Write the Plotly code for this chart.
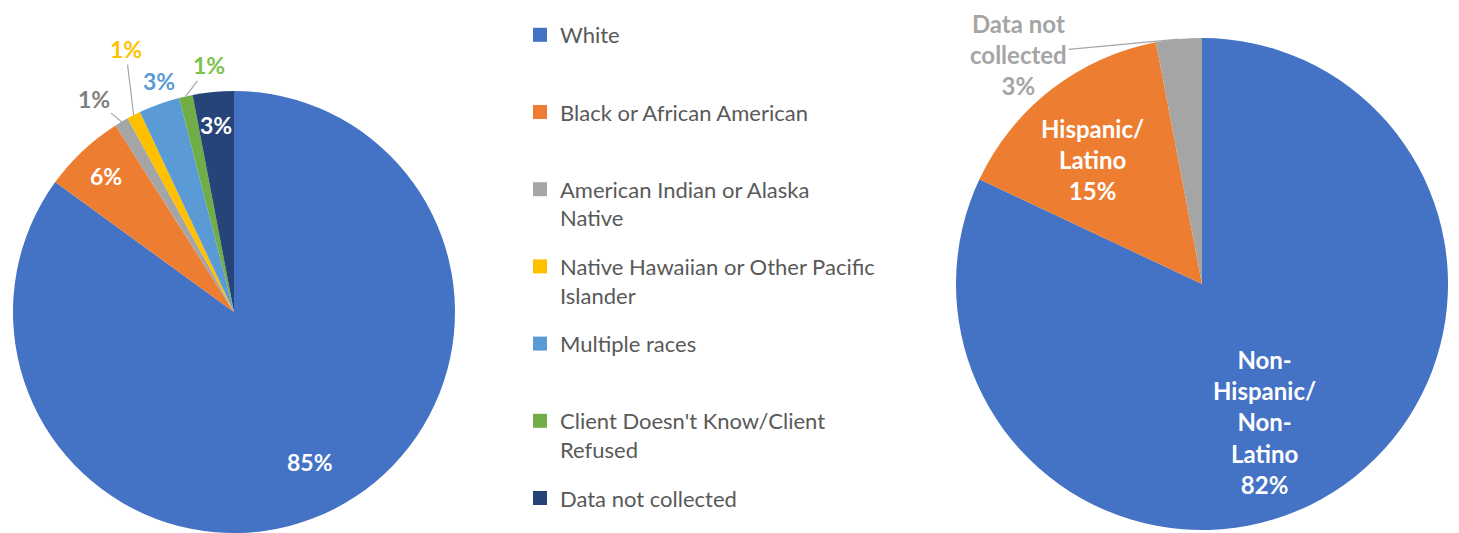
import numpy as np
import plotly.graph_objects as go

# ---------------- data ----------------
race_labels = ["White", "Black or African American", "American Indian or Alaska Native",
               "Native Hawaiian or Other Pacific Islander", "Multiple races",
               "Client Doesn't Know/Client Refused", "Data not collected"]
race_legend = ["White", "Black or African American", "American Indian or Alaska<br>Native",
               "Native Hawaiian or Other Pacific<br>Islander", "Multiple races",
               "Client Doesn't Know/Client<br>Refused", "Data not collected"]
race_values = [85, 6, 1, 1, 3, 1, 3]

eth_labels = ["Non-Hispanic/Non-Latino", "Hispanic/Latino", "Data not collected"]
eth_text = ["Non-<br>Hispanic/<br>Non-<br>Latino", "Hispanic/<br>Latino", "Data not<br>collected"]
eth_values = [82, 15, 3]

# ---------------- styles ----------------
race_colors = ["#4472C4", "#ED7D31", "#A5A5A5", "#FFC000", "#5B9BD5", "#70AD47", "#264478"]
eth_colors = ["#4472C4", "#ED7D31", "#A5A5A5"]

# label placement: ("in", radius fraction, dx, dy) / ("near", None, dx, dy) / ("out", None, ax, ay)
race_label_pos = [("in", 0.76, 0, 0), ("in", 0.845, 0, 0), ("out", None, -28, -23),
                  ("out", None, -8, -66), ("near", None, 0, -23), ("out", None, 23, -31),
                  ("in", 0.85, 0, 0)]
race_label_color = ["white", "white", "#7F7F7F", "#FFC000", "#5B9BD5", "#7DC24B", "white"]
eth_label_pos = [("in", 0.62, -19, 9), ("in", 0.67, -8, 6), ("out", None, -160, 15)]
eth_label_color = ["white", "white", "#A5A5A5"]

W, H = 1459, 533
FONT = "Lato"
L_SIZE, R_SIZE, LEG_SIZE = 23, 24, 22

# pie geometry (pixels)
L_CX, L_CY, L_R = 234, 312, 221
R_CX, R_CY, R_R = 1202, 284, 246


def dom(cx, cy, r):
    return dict(x=[(cx - r) / W, (cx + r) / W], y=[1 - (cy + r) / H, 1 - (cy - r) / H])


def pad2(s):
    return s if "<br>" in s else s + "<br> "


fig = go.Figure()

fig.add_trace(go.Pie(
    labels=race_labels, values=race_values,
    sort=False, direction="clockwise", rotation=0,
    marker=dict(colors=race_colors, line=dict(width=0)),
    textinfo="none", domain=dom(L_CX, L_CY, L_R),
    hoverinfo="label+percent", showlegend=False,
))

fig.add_trace(go.Pie(
    labels=eth_labels, values=eth_values,
    sort=False, direction="clockwise", rotation=0,
    marker=dict(colors=eth_colors, line=dict(width=0)),
    textinfo="none", domain=dom(R_CX, R_CY, R_R),
    hoverinfo="label+percent", showlegend=False,
))

# legend entries (one group per race category, so the gaps match the original)
last = len(race_labels) - 1
for i, lab in enumerate(race_legend):
    fig.add_trace(go.Scatter(
        x=[None], y=[None], mode="markers",
        marker=dict(symbol="square", size=14, color=race_colors[i]),
        name=pad2(lab) if i < last else lab,
        legendgroup=f"race{i}", showlegend=True, hoverinfo="skip",
    ))


def polar_point(values, idx, cx, cy, r):
    cum = np.cumsum(values)
    mid = (cum[idx] - values[idx] / 2.0) / cum[-1]
    th = 2 * np.pi * mid
    return cx + r * np.sin(th), cy - r * np.cos(th)


def make_labels(values, texts, pos, colors, cx, cy, r, size):
    out = []
    for i, v in enumerate(values):
        kind, frac, dx, dy = pos[i]
        txt = f"{texts[i]}<br>{v}%" if texts else f"{v}%"
        font = dict(family=FONT, size=size, color=colors[i], weight="bold")
        if kind in ("in", "near"):
            px, py = polar_point(values, i, cx, cy, r * (frac if frac else 1.0))
            out.append(dict(x=(px + dx) / W, y=1 - (py + dy) / H, xref="paper", yref="paper",
                            text=txt, font=font, showarrow=False,
                            xanchor="center", yanchor="middle"))
        else:
            px, py = polar_point(values, i, cx, cy, r)
            out.append(dict(x=px / W, y=1 - py / H, xref="paper", yref="paper",
                            text=txt, font=font, showarrow=True, ax=dx, ay=dy,
                            arrowhead=0, arrowwidth=1.2, arrowcolor="#A6A6A6", standoff=0))
    return out


annotations = (make_labels(race_values, None, race_label_pos, race_label_color,
                           L_CX, L_CY, L_R, L_SIZE)
               + make_labels(eth_values, eth_text, eth_label_pos, eth_label_color,
                             R_CX, R_CY, R_R, R_SIZE))

fig.update_layout(
    width=W, height=H,
    margin=dict(l=0, r=0, t=0, b=0),
    paper_bgcolor="white", plot_bgcolor="rgba(0,0,0,0)",
    xaxis=dict(visible=False), yaxis=dict(visible=False),
    annotations=annotations,
    legend=dict(
        x=520 / W, xanchor="left", y=1 - 14 / H, yanchor="top",
        font=dict(family=FONT, size=LEG_SIZE, color="#595959"),
        valign="top", bgcolor="rgba(0,0,0,0)", tracegroupgap=17,
    ),
)

fig.write_html("out.html", config={"displayModeBar": False},
               post_script="document.body.style.margin='0';")
